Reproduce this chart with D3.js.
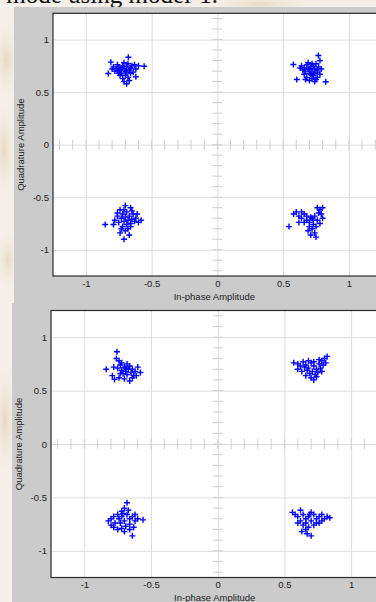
<!DOCTYPE html>
<html>
<head>
<meta charset="utf-8">
<script src="https://cdn.jsdelivr.net/npm/d3@7"></script>
<style>
  html, body { margin: 0; padding: 0; background: #f3ece3; }
  svg { display: block; }
</style>
</head>
<body>
<svg width="376" height="602"></svg>
<script>
// constellation points, [in-phase, quadrature]
const topUL = [[-0.557,0.746],[-0.620,0.646],[-0.677,0.832],[-0.810,0.785],[-0.830,0.677],[-0.690,0.580],
  [-0.79,0.74],[-0.77,0.72],[-0.76,0.70],[-0.75,0.74],[-0.74,0.71],[-0.73,0.68],[-0.72,0.75],[-0.71,0.72],
  [-0.70,0.70],[-0.69,0.74],[-0.68,0.77],[-0.67,0.71],[-0.66,0.73],[-0.65,0.75],[-0.64,0.69],[-0.70,0.66],
  [-0.72,0.63],[-0.68,0.64],[-0.74,0.66],[-0.78,0.70],[-0.80,0.72],[-0.66,0.68],[-0.63,0.76],[-0.60,0.75],
  [-0.71,0.78],[-0.69,0.69],[-0.73,0.73],[-0.75,0.68],[-0.67,0.61],[-0.71,0.60],[-0.62,0.72],[-0.76,0.76]];
const topUR = [[0.578,0.763],[0.604,0.620],[0.768,0.848],[0.824,0.598],
  [0.64,0.75],[0.66,0.73],[0.67,0.70],[0.68,0.76],[0.69,0.72],[0.70,0.68],[0.71,0.74],[0.72,0.70],
  [0.73,0.66],[0.74,0.72],[0.75,0.77],[0.76,0.69],[0.77,0.74],[0.78,0.80],[0.66,0.67],[0.68,0.64],
  [0.70,0.61],[0.72,0.63],[0.74,0.60],[0.76,0.64],[0.78,0.67],[0.65,0.71],[0.69,0.78],[0.71,0.67],
  [0.73,0.75],[0.75,0.62],[0.79,0.72],[0.63,0.73],[0.67,0.62],[0.70,0.72],[0.72,0.77],[0.74,0.68],[0.76,0.71]];
const topLL = [[-0.853,-0.76],[-0.71,-0.90],[-0.70,-0.58],[-0.66,-0.60],[-0.74,-0.62],
  [-0.78,-0.72],[-0.76,-0.68],[-0.75,-0.74],[-0.73,-0.70],[-0.72,-0.66],[-0.71,-0.73],[-0.70,-0.69],
  [-0.69,-0.64],[-0.68,-0.72],[-0.67,-0.68],[-0.66,-0.75],[-0.65,-0.71],[-0.64,-0.66],[-0.63,-0.73],
  [-0.62,-0.70],[-0.60,-0.74],[-0.58,-0.72],[-0.72,-0.78],[-0.70,-0.82],[-0.68,-0.80],[-0.74,-0.84],
  [-0.66,-0.78],[-0.76,-0.65],[-0.69,-0.76],[-0.71,-0.62],[-0.65,-0.63],[-0.73,-0.80],[-0.67,-0.86],
  [-0.79,-0.76],[-0.61,-0.66]];
const topLR = [[0.545,-0.78],[0.58,-0.66],[0.60,-0.64],[0.62,-0.68],[0.64,-0.70],[0.66,-0.66],[0.68,-0.72],
  [0.70,-0.74],[0.72,-0.70],[0.74,-0.68],[0.76,-0.72],[0.78,-0.62],[0.80,-0.60],[0.76,-0.60],[0.77,-0.65],
  [0.79,-0.66],[0.70,-0.78],[0.72,-0.80],[0.74,-0.84],[0.71,-0.86],[0.73,-0.76],[0.75,-0.78],[0.69,-0.82],
  [0.68,-0.68],[0.66,-0.74],[0.78,-0.75],[0.80,-0.70],[0.73,-0.72],[0.75,-0.88],[0.62,-0.74],[0.71,-0.69],[0.64,-0.64]];

const botUL = [[-0.755,0.864],[-0.76,0.80],[-0.74,0.78],[-0.78,0.72],[-0.836,0.70],[-0.774,0.605],[-0.75,0.71],
  [-0.73,0.74],[-0.72,0.69],[-0.71,0.66],[-0.70,0.72],[-0.69,0.68],[-0.68,0.65],[-0.67,0.70],[-0.66,0.73],
  [-0.65,0.67],[-0.64,0.70],[-0.63,0.64],[-0.62,0.68],[-0.60,0.72],[-0.58,0.67],[-0.74,0.62],[-0.70,0.61],
  [-0.66,0.59],[-0.72,0.76],[-0.68,0.75],[-0.79,0.64],[-0.73,0.66],[-0.69,0.71],[-0.61,0.64],[-0.64,0.62]];
const botUR = [[0.57,0.76],[0.60,0.75],[0.62,0.73],[0.64,0.77],[0.66,0.74],[0.68,0.71],[0.70,0.76],[0.72,0.73],
  [0.74,0.70],[0.76,0.75],[0.78,0.78],[0.80,0.80],[0.82,0.82],[0.79,0.74],[0.77,0.71],[0.75,0.67],[0.73,0.65],
  [0.71,0.68],[0.69,0.66],[0.67,0.69],[0.65,0.72],[0.63,0.68],[0.70,0.62],[0.72,0.60],[0.74,0.63],[0.66,0.64],
  [0.81,0.76],[0.68,0.78],[0.76,0.79],[0.72,0.77],[0.60,0.70],[0.78,0.68]];
const botLL = [[-0.68,-0.55],[-0.70,-0.60],[-0.72,-0.63],[-0.75,-0.66],[-0.78,-0.68],[-0.80,-0.70],[-0.82,-0.72],
  [-0.77,-0.74],[-0.74,-0.70],[-0.72,-0.68],[-0.70,-0.72],[-0.68,-0.66],[-0.66,-0.70],[-0.64,-0.68],[-0.62,-0.72],
  [-0.60,-0.70],[-0.56,-0.71],[-0.66,-0.75],[-0.69,-0.77],[-0.72,-0.79],[-0.75,-0.80],[-0.78,-0.78],[-0.70,-0.82],
  [-0.66,-0.80],[-0.63,-0.78],[-0.64,-0.86],[-0.73,-0.74],[-0.71,-0.65],[-0.67,-0.62],[-0.80,-0.76],[-0.62,-0.66]];
const botLR = [[0.56,-0.64],[0.58,-0.66],[0.60,-0.68],[0.62,-0.62],[0.64,-0.66],[0.66,-0.70],[0.68,-0.68],
  [0.70,-0.64],[0.72,-0.66],[0.74,-0.70],[0.76,-0.68],[0.78,-0.66],[0.80,-0.70],[0.82,-0.68],[0.84,-0.69],
  [0.62,-0.72],[0.64,-0.76],[0.66,-0.74],[0.68,-0.78],[0.70,-0.72],[0.72,-0.76],[0.74,-0.74],[0.66,-0.80],
  [0.63,-0.82],[0.70,-0.86],[0.67,-0.84],[0.76,-0.74],[0.60,-0.74],[0.69,-0.66],[0.78,-0.72]];

const tickValues = [-1, -0.5, 0, 0.5, 1];
const xTitle = 'In-phase Amplitude';
const yTitle = 'Quadrature Amplitude';
const captionText = 'mode using model-1.';

const svg = d3.select('svg');
const W = 376;

// scanned page background with faint watermark
const defs = svg.append('defs');
const rg = defs.append('radialGradient').attr('id', 'blot');
rg.append('stop').attr('offset', '0%').attr('stop-color', '#e6d2b8').attr('stop-opacity', 0.8);
rg.append('stop').attr('offset', '100%').attr('stop-color', '#f3ece3').attr('stop-opacity', 0);
svg.append('rect').attr('width', W).attr('height', 602).attr('fill', '#f4efe8');
[[6, 60, 14, 40], [4, 150, 12, 50], [8, 260, 12, 30], [5, 420, 14, 60], [260, 4, 60, 8]].forEach(b => {
  svg.append('ellipse').attr('cx', b[0]).attr('cy', b[1]).attr('rx', b[2]).attr('ry', b[3])
    .attr('fill', 'url(#blot)');
});

// caption of the scanned page, cut by the top edge
svg.append('text')
  .attr('x', 218).attr('y', 3)
  .attr('text-anchor', 'end')
  .attr('font-family', '"Liberation Serif", serif')
  .attr('font-size', 25)
  .attr('fill', '#111')
  .text(captionText);

const panels = [
  { top: 7, bottom: 303, left: 14, plot: { x0: 53, x1: 381.75, y0: 13.3, y1: 276 },
    xTitleY: 299.5, yTitleX: 23.5, sets: [topUL, topUR, topLL, topLR] },
  { top: 303, bottom: 602, left: 12, plot: { x0: 51, x1: 384.5, y0: 310.5, y1: 577.5 },
    xTitleY: 600.5, yTitleX: 21.5, sets: [botUL, botUR, botLL, botLR] }
];

const plusPath = 'M-3,0H3M0,-3V3';

panels.forEach(p => {
  svg.append('rect')
    .attr('x', p.left).attr('y', p.top)
    .attr('width', W - p.left).attr('height', p.bottom - p.top)
    .attr('fill', '#cbcbcb');

  const x = d3.scaleLinear().domain([-1.25, 1.25]).range([p.plot.x0, p.plot.x1]);
  const y = d3.scaleLinear().domain([-1.25, 1.25]).range([p.plot.y1, p.plot.y0]);
  const iw = p.plot.x1 - p.plot.x0;
  const ih = p.plot.y1 - p.plot.y0;

  svg.append('rect')
    .attr('x', p.plot.x0).attr('y', p.plot.y0)
    .attr('width', iw).attr('height', ih)
    .attr('fill', '#fff');

  // grid
  const gx = svg.append('g')
    .attr('transform', `translate(0,${p.plot.y1})`)
    .call(d3.axisBottom(x).tickValues(tickValues).tickSize(-ih).tickFormat(''));
  gx.select('.domain').remove();
  gx.selectAll('line').attr('stroke', '#dcdcdc');
  const gy = svg.append('g')
    .attr('transform', `translate(${p.plot.x0},0)`)
    .call(d3.axisLeft(y).tickValues(tickValues).tickSize(-iw).tickFormat(''));
  gy.select('.domain').remove();
  gy.selectAll('line').attr('stroke', '#dcdcdc');

  // centre cross with minor ticks every 0.1
  const minor = d3.range(-12, 13).map(i => i / 10);
  const cross = svg.append('g').attr('stroke', '#cfcfcf').attr('stroke-width', 1);
  cross.selectAll('.mx').data(minor).enter().append('line')
    .attr('x1', d => x(d)).attr('x2', d => x(d))
    .attr('y1', y(0) - 5).attr('y2', y(0) + 5);
  cross.selectAll('.my').data(minor).enter().append('line')
    .attr('y1', d => y(d)).attr('y2', d => y(d))
    .attr('x1', x(0) - 5).attr('x2', x(0) + 5);

  // frame
  svg.append('rect')
    .attr('x', p.plot.x0).attr('y', p.plot.y0)
    .attr('width', iw).attr('height', ih)
    .attr('fill', 'none').attr('stroke', '#2a2a2a').attr('stroke-width', 1.2);

  // tick labels
  const ax = svg.append('g')
    .attr('transform', `translate(0,${p.plot.y1})`)
    .call(d3.axisBottom(x).tickValues(tickValues).tickSize(0).tickPadding(4).tickFormat(d => String(d)));
  const ay = svg.append('g')
    .attr('transform', `translate(${p.plot.x0},0)`)
    .call(d3.axisLeft(y).tickValues(tickValues).tickSize(0).tickPadding(4).tickFormat(d => String(d)));
  [ax, ay].forEach(a => {
    a.select('.domain').remove();
    a.selectAll('text').attr('font-family', '"Liberation Sans", Arial, sans-serif')
      .attr('font-size', 9.5).attr('fill', '#222');
  });

  svg.append('text')
    .attr('x', x(0) - 3).attr('y', p.xTitleY)
    .attr('text-anchor', 'middle')
    .attr('font-family', '"Liberation Sans", Arial, sans-serif')
    .attr('font-size', 9.5).attr('fill', '#222')
    .text(xTitle);
  svg.append('text')
    .attr('transform', `translate(${p.yTitleX},${y(0)}) rotate(-90)`)
    .attr('text-anchor', 'middle')
    .attr('font-family', '"Liberation Sans", Arial, sans-serif')
    .attr('font-size', 9.5).attr('fill', '#222')
    .text(yTitle);

  const pts = p.sets.flat();
  svg.append('g').selectAll('path').data(pts).enter().append('path')
    .attr('transform', d => `translate(${x(d[0])},${y(d[1])})`)
    .attr('d', plusPath)
    .attr('stroke', '#0000ff').attr('stroke-width', 1.4).attr('fill', 'none');
});
</script>
</body>
</html>
